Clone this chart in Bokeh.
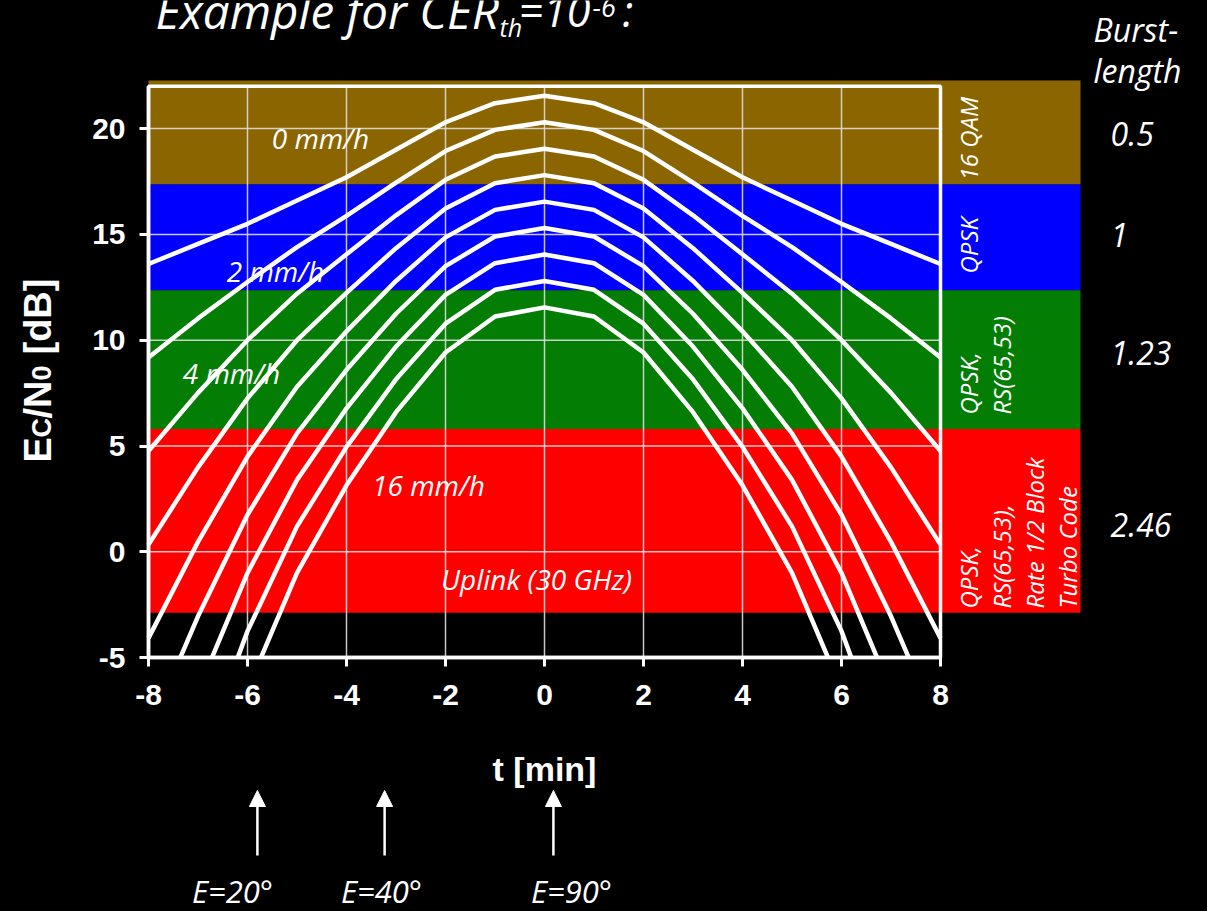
import math
from bokeh.plotting import figure
from bokeh.models import Range1d, FixedTicker, Arrow, NormalHead
from bokeh.core.properties import value
from bokeh.embed import file_html
from bokeh.resources import INLINE

# ---------------- data ----------------
t_min = [-8, -7, -6, -5, -4, -3, -2, -1, 0, 1, 2, 3, 4, 5, 6, 7, 8]
rain_rates = ["0 mm/h", "2 mm/h", "4 mm/h", "6 mm/h", "8 mm/h",
              "10 mm/h", "12 mm/h", "14 mm/h", "16 mm/h"]
ecn0_r0 = [13.6, 14.55, 15.5, 16.6, 17.7, 19.0, 20.3, 21.2, 21.55, 21.2, 20.3, 19.0, 17.7, 16.6, 15.5, 14.55, 13.6]
ecn0_r2 = [9.18, 11.03, 12.75, 14.4, 15.88, 17.45, 18.94, 19.94, 20.3, 19.94, 18.94, 17.45, 15.88, 14.4, 12.75, 11.03, 9.18]
ecn0_r4 = [4.76, 7.51, 10.0, 12.2, 14.06, 15.9, 17.58, 18.68, 19.05, 18.68, 17.58, 15.9, 14.06, 12.2, 10.0, 7.51, 4.76]
ecn0_r6 = [0.34, 3.99, 7.25, 10.0, 12.24, 14.35, 16.22, 17.42, 17.8, 17.42, 16.22, 14.35, 12.24, 10.0, 7.25, 3.99, 0.34]
ecn0_r8 = [-4.08, 0.47, 4.5, 7.8, 10.42, 12.8, 14.86, 16.16, 16.55, 16.16, 14.86, 12.8, 10.42, 7.8, 4.5, 0.47, -4.08]
ecn0_r10 = [-8.5, -3.05, 1.75, 5.6, 8.6, 11.25, 13.5, 14.9, 15.3, 14.9, 13.5, 11.25, 8.6, 5.6, 1.75, -3.05, -8.5]
ecn0_r12 = [-12.92, -6.57, -1.0, 3.4, 6.78, 9.7, 12.14, 13.64, 14.05, 13.64, 12.14, 9.7, 6.78, 3.4, -1.0, -6.57, -12.92]
ecn0_r14 = [-17.34, -10.09, -3.75, 1.2, 4.96, 8.15, 10.78, 12.38, 12.8, 12.38, 10.78, 8.15, 4.96, 1.2, -3.75, -10.09, -17.34]
ecn0_r16 = [-21.76, -13.61, -6.5, -1.0, 3.14, 6.6, 9.42, 11.12, 11.55, 11.12, 9.42, 6.6, 3.14, -1.0, -6.5, -13.61, -21.76]
curves = [ecn0_r0, ecn0_r2, ecn0_r4, ecn0_r6, ecn0_r8, ecn0_r10, ecn0_r12, ecn0_r14, ecn0_r16]

# modulation / coding regions (Ec/N0 thresholds in dB)
mode_names = ["16 QAM", "QPSK", "QPSK,\nRS(65,53)", "QPSK,\nRS(65,53),\nRate 1/2 Block\nTurbo Code"]
mode_top = [22.27, 17.36, 12.36, 5.8]
mode_bottom = [17.36, 12.36, 5.8, -2.88]
mode_colors = ["#8B6600", "#0000FF", "#037D03", "#FF0000"]
burst_lengths = ["0.5", "1", "1.23", "2.46"]

elev_labels = ["E=20\u00b0", "E=40\u00b0", "E=90\u00b0"]
elev_t = [-5.8, -3.23, 0.18]

x_ticks = [-8, -6, -4, -2, 0, 2, 4, 6, 8]
y_ticks = [-5, 0, 5, 10, 15, 20]

# ---------------- layout helpers (screen px -> data) ----------------
def X(px):
    return (px - 544.0) / 49.5

def Y(py):
    return (551.3 - py) / 21.16

W, H = 1207, 911
p = figure(width=W, height=H, output_backend="svg", toolbar_location=None,
           x_range=Range1d(X(0), X(W)), y_range=Range1d(Y(H), Y(0)),
           min_border=0, min_border_left=0, min_border_right=0,
           min_border_top=0, min_border_bottom=0,
           background_fill_color="black", border_fill_color="black",
           outline_line_color=None)
p.xgrid.visible = False
p.ygrid.visible = False

x_lo, x_hi = t_min[0], t_min[-1]
y_lo, y_hi = y_ticks[0], 22

# colored bands (extend to the right label column)
p.quad(left=x_lo, right=X(1080), top=mode_top, bottom=mode_bottom,
       fill_color=mode_colors, line_color=None)

# grid lines inside the plot box
p.segment(x0=x_ticks, x1=x_ticks, y0=[y_lo] * len(x_ticks), y1=[y_hi] * len(x_ticks),
          line_color="#DDDDDD", line_width=1.5, line_alpha=0.9)
p.segment(x0=[x_lo] * len(y_ticks), x1=[x_hi] * len(y_ticks), y0=y_ticks, y1=y_ticks,
          line_color="#DDDDDD", line_width=1.5, line_alpha=0.9)

# curves
for c in curves:
    p.line(t_min, c, line_color="white", line_width=4.5)

# mask below the plot box (curves clipped at -5 dB)
p.quad(left=x_lo - 0.2, right=x_hi + 0.2, top=y_lo, bottom=Y(H) - 5,
       fill_color="black", line_color=None)

# plot box
p.quad(left=x_lo, right=x_hi, top=y_hi, bottom=y_lo, fill_color=None,
       line_color="white", line_width=3.5)

# axes
ax = p.xaxis[0]
ax.fixed_location = y_lo
ax.bounds = (x_lo, x_hi)
ax.ticker = FixedTicker(ticks=x_ticks)
ax.major_label_overrides = {v: str(v) for v in x_ticks}
ay = p.yaxis[0]
ay.fixed_location = x_lo
ay.bounds = (y_lo, y_hi)
ay.ticker = FixedTicker(ticks=y_ticks)
ay.major_label_overrides = {v: str(v) for v in y_ticks}
for a in (ax, ay):
    a.axis_line_color = "white"
    a.axis_line_width = 3.5
    a.major_tick_line_color = "white"
    a.major_tick_line_width = 3
    a.major_tick_out = 9
    a.major_tick_in = 0
    a.minor_tick_line_color = None
    a.major_label_text_color = "white"
    a.major_label_text_font = "Liberation Sans"
    a.major_label_text_font_style = "bold"
    a.major_label_text_font_size = "30px"
ax.major_label_standoff = 18
ay.major_label_standoff = 14

ital = dict(text_font=value("Open Sans"), text_font_style="italic", text_color="white")
bold = dict(text_font=value("Liberation Sans"), text_font_style="bold", text_color="white")

# x axis label
p.text(x=[X(544)], y=[Y(768)], text=["t [min]"], text_font_size="34px",
       text_align="center", text_baseline="middle", **bold)

# y axis label E_C/N_0 [dB] (rotated, built from pieces)
ylab_pieces = ["E", "C", "/N", "0", "[dB]"]
ylab_sizes = ["38px", "27px", "38px", "27px", "38px"]
ylab_start = [462, 437, 418, 380, 354]
ylab_base = [37, 41, 37, 41, 37]
p.text(x=[X(v) for v in ylab_base], y=[Y(v) for v in ylab_start], text=ylab_pieces,
       text_font_size=ylab_sizes, angle=math.pi / 2,
       text_align="left", text_baseline="alphabetic", **bold)

# curve labels
p.text(x=[X(320), X(275), X(231), X(428)], y=[Y(137), Y(270), Y(372), Y(484)],
       text=[rain_rates[0], rain_rates[1], rain_rates[2], rain_rates[8]],
       text_font_size="28px", text_align="center", text_baseline="middle", **ital)
p.text(x=[X(536)], y=[Y(578)], text=["Uplink (30 GHz)"], text_font_size="28px",
       text_align="center", text_baseline="middle", **ital)

# mode names (rotated) in the band column
p.text(x=[X(951)] * 4, y=[Y(180), Y(273), Y(414), Y(608)], text=mode_names,
       angle=math.pi / 2, text_font_size="24px", text_line_height=1.0,
       text_align="left", text_baseline="top", **ital)

# burst length column
p.text(x=[X(1093), X(1093)], y=[Y(29), Y(70)], text=["Burst-", "length"],
       text_font_size="32px", text_align="left", text_baseline="alphabetic", **ital)
p.text(x=[X(1110)] * 4, y=[Y(133), Y(234), Y(352), Y(524)], text=burst_lengths,
       text_font_size="32px", text_align="left", text_baseline="middle", **ital)

# title
p.text(x=[X(155)], y=[Y(10)], text=["Example for CER"], text_font_size="47.5px",
       text_align="left", text_baseline="alphabetic", **ital)
p.text(x=[X(499)], y=[Y(26)], text=["th"], text_font_size="25px",
       text_align="left", text_baseline="alphabetic", **ital)
p.text(x=[X(518)], y=[Y(10)], text=["=10"], text_font_size="43px",
       text_align="left", text_baseline="alphabetic", **ital)
p.text(x=[X(592)], y=[Y(6)], text=["-6"], text_font_size="27px",
       text_align="left", text_baseline="alphabetic", **ital)
p.text(x=[X(622)], y=[Y(10)], text=[":"], text_font_size="43px",
       text_align="left", text_baseline="alphabetic", **ital)

# elevation arrows
for tx in elev_t:
    p.add_layout(Arrow(end=NormalHead(size=16, fill_color="white", line_color="white"),
                       x_start=tx, y_start=Y(855), x_end=tx, y_end=Y(790),
                       line_color="white", line_width=2.5))
p.text(x=[X(232), X(381), X(571)], y=[Y(890)] * 3, text=elev_labels,
       text_font_size="31px", text_align="center", text_baseline="middle", **ital)

html = file_html(p, INLINE)
html = html.replace("<head>", "<head><style>html,body{background:#000;}</style>", 1)
open("out.html", "w").write(html)
